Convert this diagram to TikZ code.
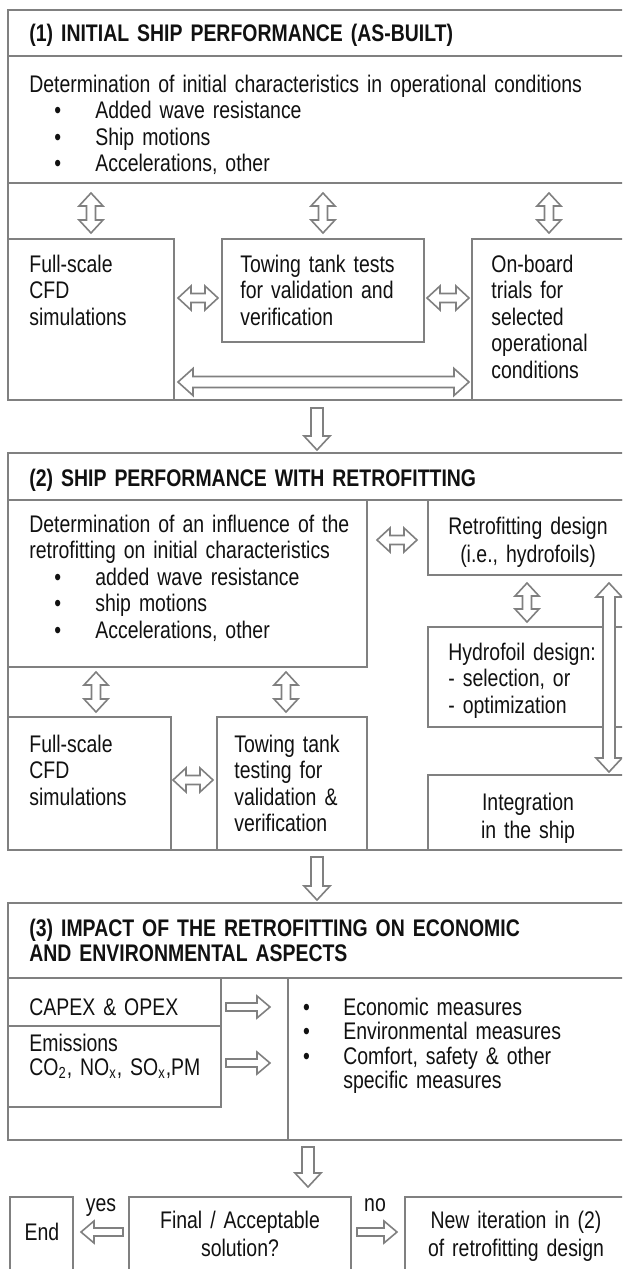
\documentclass[tikz,border=0pt]{standalone}
\usepackage{fontspec}
\setmainfont[FakeStretch=0.81]{Liberation Sans}
\definecolor{ln}{HTML}{808080}
\definecolor{tx}{HTML}{111111}
% block arrows, pixel coordinates (y downwards)
\newcommand\dblV[6]{\draw[barrow] (#1,#2) -- ({#1+(#5)},{#2+(#6)}) -- ({#1+(#4)},{#2+(#6)}) -- ({#1+(#4)},{#3-(#6)}) -- ({#1+(#5)},{#3-(#6)}) -- (#1,#3) -- ({#1-(#5)},{#3-(#6)}) -- ({#1-(#4)},{#3-(#6)}) -- ({#1-(#4)},{#2+(#6)}) -- ({#1-(#5)},{#2+(#6)}) -- cycle;}
\newcommand\dblH[6]{\draw[barrow] (#2,#1) -- ({#2+(#6)},{#1-(#5)}) -- ({#2+(#6)},{#1-(#4)}) -- ({#3-(#6)},{#1-(#4)}) -- ({#3-(#6)},{#1-(#5)}) -- (#3,#1) -- ({#3-(#6)},{#1+(#5)}) -- ({#3-(#6)},{#1+(#4)}) -- ({#2+(#6)},{#1+(#4)}) -- ({#2+(#6)},{#1+(#5)}) -- cycle;}
\newcommand\sglV[6]{\draw[barrow] ({#1-(#4)},#2) -- ({#1+(#4)},#2) -- ({#1+(#4)},{#3-(#6)}) -- ({#1+(#5)},{#3-(#6)}) -- (#1,#3) -- ({#1-(#5)},{#3-(#6)}) -- ({#1-(#4)},{#3-(#6)}) -- cycle;}
\newcommand\sglH[6]{\draw[barrow] (#2,{#1-(#4)}) -- (#2,{#1+(#4)}) -- ({#3-(#6)},{#1+(#4)}) -- ({#3-(#6)},{#1+(#5)}) -- (#3,#1) -- ({#3-(#6)},{#1-(#5)}) -- ({#3-(#6)},{#1-(#4)}) -- cycle;}
\newcommand\bul[1]{\hspace*{14.25pt}\makebox[0pt]{•}\hspace*{18.75pt}#1}
\newcommand\rbul[1]{\makebox[0pt]{•}\hspace*{18.5pt}#1}
\begin{document}
\begin{tikzpicture}[x=0.5pt,y=-0.5pt,
  frame/.style={draw=ln, line width=1pt, line join=miter},
  barrow/.style={draw=ln, fill=white, line width=0.8pt, line join=miter},
  txt/.style={inner sep=0pt, anchor=base west, align=left, text width=#1, text=tx,
    font=\fontsize{12}{13.25}\selectfont},
  ctxt/.style={inner sep=0pt, anchor=base, align=center, text width=#1, text=tx,
    font=\fontsize{12}{14}\selectfont},
  ttl/.style={inner sep=0pt, anchor=base west, align=left, text width=#1, text=tx,
    font=\bfseries\fontsize{12}{12.5}\selectfont}]
\useasboundingbox (0,0) rectangle (622,1269);
\clip (0,0) rectangle (622,1269);
\fill[white] (0,0) rectangle (622,1269);

% ---------- Section 1 ----------
\draw[frame] (8,10) rectangle (640,400);
\draw[frame] (8,56) -- (640,56);
\draw[frame] (8,183) -- (640,183);
\draw[frame] (8,239) rectangle (174,400);
\draw[frame] (222,239) rectangle (424,342);
\draw[frame] (472,239) rectangle (640,400);

\node[ttl=300pt] (t1) at (29,41) {(1) INITIAL SHIP PERFORMANCE (AS-BUILT)};
\node[txt=300pt] (d1) at (29,92) {Determination of initial characteristics in operational conditions\\
  \bul{Added wave resistance}\\ \bul{Ship motions}\\ \bul{Accelerations, other}};
\node[txt=70pt] (cfd1) at (29,272) {Full-scale\\CFD\\simulations};
\node[txt=90pt] (tow1) at (240,272) {Towing tank tests\\for validation and\\verification};
\node[txt=80pt] (onb1) at (491,272) {On-board\\trials for\\selected\\operational\\conditions};

\dblV{91}{193}{233}{4.5}{12}{13}
\dblV{323}{193}{233}{4.5}{12}{13}
\dblV{549}{193}{233}{4.5}{12}{13}
\dblH{298}{178}{218}{4.5}{12}{13}
\dblH{298}{427}{469}{4.5}{12}{13}
\dblH{382}{178}{469}{5.5}{13.5}{15}

\sglV{317}{408}{450}{6}{13}{14}

% ---------- Section 2 ----------
\draw[frame] (8,453) rectangle (640,850);
\draw[frame] (8,500) -- (640,500);
\draw[frame] (8,500) rectangle (367,667);
\draw[frame] (428,500) rectangle (640,575);
\draw[frame] (428,627) rectangle (640,727);
\draw[frame] (428,775) rectangle (640,850);
\draw[frame] (8,717) rectangle (171,850);
\draw[frame] (217,717) rectangle (367,850);

\node[ttl=300pt] (t2) at (29,486) {(2) SHIP PERFORMANCE WITH RETROFITTING};
\node[txt=180pt] (d2) at (29,532) {Determination of an influence of the\\retrofitting on initial characteristics\\
  \bul{added wave resistance}\\ \bul{ship motions}\\ \bul{Accelerations, other}};
\node[ctxt=100pt] (rd) at (528,534) {Retrofitting design\\(i.e., hydrofoils)};
\node[txt=90pt] (hd) at (448,660) {Hydrofoil design:\\- selection, or\\- optimization};
\node[ctxt=90pt] (ig) at (528,810) {Integration\\in the ship};
\node[txt=70pt] (cfd2) at (29,752) {Full-scale\\CFD\\simulations};
\node[txt=70pt] (tow2) at (234,752) {Towing tank\\testing for\\validation \&\\verification};

\dblH{540}{377}{417}{4.5}{12}{13}
\dblV{527}{583}{622}{4.5}{12}{13}
\dblV{609}{583}{772}{6}{13}{14}
\dblV{96}{672}{712}{4.5}{12}{13}
\dblV{286}{672}{712}{4.5}{12}{13}
\dblH{780}{173}{213}{4.5}{12}{13}

\sglV{317}{857}{900}{6}{13}{14}

% ---------- Section 3 ----------
\draw[frame] (8,903) rectangle (640,1140);
\draw[frame] (8,978) -- (640,978);
\draw[frame] (8,978) rectangle (221,1026);
\draw[frame] (8,1026) rectangle (221,1107);
\draw[frame] (288,978) -- (288,1140);

\node[ttl=300pt] (t3) at (29,936) {(3) IMPACT OF THE RETROFITTING ON ECONOMIC\\AND ENVIRONMENTAL ASPECTS};
\node[txt=100pt] (cx) at (29,1015) {CAPEX \& OPEX};
\node[txt=100pt, font=\fontsize{12}{12}\selectfont] (em) at (29,1051) {Emissions\\CO\textsubscript{2}, NO\textsubscript{x}, SO\textsubscript{x},PM};
\node[txt=160pt, font=\fontsize{12}{12.3}\selectfont] (ms) at (306,1015) {\rbul{Economic measures}\\ \rbul{Environmental measures}\\ \rbul{Comfort, safety \& other}\\ \hspace*{18.5pt}specific measures};

\sglH{1007}{226}{270}{4}{11}{13}
\sglH{1063}{226}{270}{4}{11}{13}

\sglV{308}{1147}{1187}{6}{13}{14}

% ---------- Decision row ----------
\draw[frame] (10,1197) rectangle (73,1300);
\draw[frame] (129,1197) rectangle (351,1300);
\draw[frame] (405,1197) rectangle (640,1300);

\node[ctxt=30pt] (yes) at (101,1211) {yes};
\node[ctxt=30pt] (no) at (375,1211) {no};
\node[ctxt=30pt] (end) at (42,1240) {End};
\node[ctxt=110pt] (fin) at (240,1228) {Final / Acceptable\\solution?};
\node[ctxt=120pt] (new) at (516,1228) {New iteration in (2)\\of retrofitting design};

\sglH{1232}{123}{81}{4}{11}{-13}
\sglH{1232}{357}{397}{4}{11}{13}
\end{tikzpicture}
\end{document}
